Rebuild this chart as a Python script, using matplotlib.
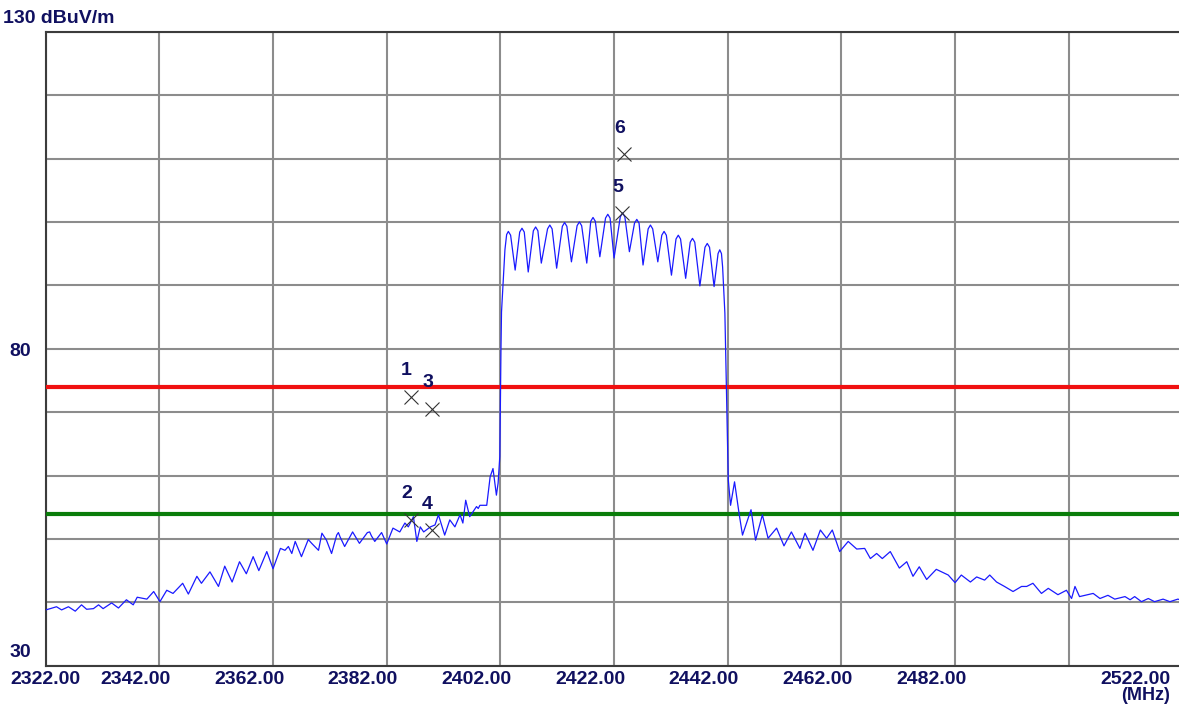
import matplotlib
matplotlib.use("Agg")
import matplotlib.pyplot as plt

left_f = [
    2322.0, 2322.8, 2323.9, 2324.8, 2326.0, 2327.2, 2328.3, 2329.2, 2330.4, 2331.3,
    2332.1, 2333.6, 2334.8, 2336.2, 2337.4, 2338.1, 2339.8, 2341.0, 2342.1, 2343.3,
    2344.4, 2346.1, 2347.1, 2348.6, 2349.4, 2350.9, 2352.4, 2353.5, 2354.8, 2356.1,
    2357.3, 2358.5, 2359.5, 2360.9, 2362.0, 2363.3, 2364.1, 2364.7, 2365.3, 2365.9,
    2367.0, 2368.2, 2368.8, 2370.0, 2370.6, 2371.4, 2372.3, 2373.2, 2373.5, 2373.8,
    2374.6, 2376.0, 2377.2, 2378.6, 2379.0, 2379.3, 2379.9, 2381.1, 2382.0, 2383.1,
    2384.3, 2385.2, 2385.8, 2386.7, 2387.3, 2387.9, 2388.5, 2389.7, 2390.5, 2391.1,
    2392.2, 2393.1, 2394.0, 2394.9, 2395.4, 2395.9, 2396.6, 2397.2, 2397.8, 2398.1,
    2398.4, 2399.6, 2400.2, 2400.7, 2401.3, 2401.6, 2401.9,
]
left_db = [
    38.8, 39.0, 39.3, 38.8, 39.3, 38.6, 39.6, 38.9, 39.0, 39.6,
    39.0, 39.9, 39.1, 40.4, 39.6, 40.8, 40.5, 41.7, 40.1, 41.9,
    41.4, 43.0, 41.3, 44.1, 43.0, 44.8, 42.5, 45.7, 43.2, 46.4,
    44.5, 47.2, 45.0, 48.0, 45.3, 48.5, 48.2, 48.8, 47.7, 49.6,
    47.2, 49.9, 49.3, 48.2, 50.9, 49.8, 47.7, 50.6, 51.0, 50.3,
    48.8, 51.1, 49.3, 51.0, 51.1, 50.5, 49.6, 51.0, 49.2, 51.7,
    51.1, 52.5, 51.9, 53.5, 49.6, 51.9, 51.1, 51.9, 52.2, 53.8,
    50.6, 53.0, 51.9, 53.8, 52.5, 56.1, 53.5, 54.3, 55.1, 54.8,
    55.3, 55.3, 59.8, 61.1, 56.9, 58.8, 63.0,
]

band_f = [
    2402.1, 2402.2, 2402.5, 2402.8, 2403.1, 2403.4, 2403.8, 2404.6, 2405.4, 2405.8,
    2406.2, 2406.9, 2407.8, 2408.2, 2408.6, 2409.2, 2410.3, 2410.7, 2411.1, 2411.9,
    2412.9, 2413.3, 2413.7, 2414.5, 2415.5, 2415.9, 2416.3, 2417.2, 2417.9, 2418.3,
    2418.7, 2419.5, 2420.5, 2420.9, 2421.3, 2422.0, 2423.1, 2423.5, 2423.9, 2424.7,
    2425.6, 2426.0, 2426.4, 2427.1, 2428.0, 2428.4, 2428.8, 2429.7, 2430.4, 2430.8,
    2431.2, 2432.1, 2432.9, 2433.3, 2433.7, 2434.6, 2435.4, 2435.8, 2436.2, 2437.1,
    2438.0, 2438.4, 2438.8, 2439.6, 2440.3, 2440.6, 2440.9, 2441.1, 2441.5,
]
band_db = [
    79.8, 85.8, 90.8, 95.6, 98.0, 98.5, 97.9, 92.4, 98.4, 99.0,
    98.4, 92.1, 98.6, 99.2, 98.6, 93.5, 98.9, 99.5, 98.9, 92.7,
    99.3, 99.9, 99.3, 93.7, 99.4, 100.0, 99.4, 93.5, 100.1, 100.7,
    100.1, 94.5, 100.6, 101.2, 100.6, 94.3, 100.8, 101.4, 100.8, 95.3,
    99.8, 100.4, 99.8, 93.2, 98.9, 99.5, 98.9, 93.7, 97.9, 98.5,
    97.9, 91.6, 97.3, 97.9, 97.3, 91.1, 96.8, 97.4, 96.8, 89.9,
    96.0, 96.6, 96.0, 89.8, 95.0, 95.6, 95.0, 92.9, 85.6,
]

right_f = [
    2442.1, 2442.5, 2443.2, 2444.0, 2444.6, 2446.1, 2446.9, 2448.1, 2449.1, 2450.6,
    2451.9, 2453.2, 2454.7, 2455.6, 2457.0, 2458.3, 2459.4, 2460.4, 2461.7, 2463.2,
    2464.7, 2466.1, 2467.1, 2468.2, 2469.2, 2470.6, 2472.2, 2473.5, 2474.6, 2475.7,
    2477.0, 2478.7, 2480.8, 2482.0, 2483.1, 2484.7, 2485.8, 2487.2, 2488.1, 2489.3,
    2490.7, 2492.2, 2493.7, 2494.6, 2495.7, 2497.2, 2498.4, 2500.1, 2501.6, 2502.5,
    2503.1, 2503.9, 2506.3, 2507.5, 2508.9, 2510.1, 2511.9, 2512.8, 2513.6, 2514.8,
    2516.0, 2517.1, 2518.6, 2519.8, 2521.2, 2522.0,
]
right_db = [
    59.3, 55.3, 59.0, 54.0, 50.6, 54.6, 49.8, 53.8, 50.1, 51.7,
    48.9, 51.1, 48.5, 50.9, 48.2, 51.4, 50.1, 51.4, 48.0, 49.6,
    48.4, 48.5, 46.9, 47.7, 46.9, 48.0, 45.4, 46.4, 44.1, 45.6,
    43.6, 45.2, 44.3, 43.1, 44.3, 43.2, 44.0, 43.5, 44.3, 43.2,
    42.5, 41.7, 42.5, 42.5, 43.0, 41.4, 42.2, 41.2, 41.9, 40.6,
    42.5, 40.9, 41.4, 40.6, 41.1, 40.5, 40.9, 40.4, 40.9, 40.1,
    40.6, 40.1, 40.5, 40.1, 40.5, 40.3,
]

# limit lines
peak_limit = 74
avg_limit = 54

# markers
marker_ids = ["1", "2", "3", "4", "5", "6"]
marker_freq = [2386.2, 2386.2, 2389.9, 2389.9, 2423.4, 2423.7]
marker_level = [72.4, 53.0, 70.5, 51.4, 101.4, 110.7]

x_ticks = [2322, 2342, 2362, 2382, 2402, 2422, 2442, 2462, 2482, 2502, 2522]
x_labels = ["2322.00", "2342.00", "2362.00", "2382.00", "2402.00", "2422.00",
            "2442.00", "2462.00", "2482.00", "", "2522.00"]
y_ticks = [30, 40, 50, 60, 70, 80, 90, 100, 110, 120, 130]

plt.rcParams['font.family'] = ['Liberation Sans', 'DejaVu Sans']
txt = '#101060'

W, H = 1179, 717
fig = plt.figure(figsize=(W / 100, H / 100), dpi=100)
ax = fig.add_axes([45.7 / W, 51.3 / H, (1182.4 - 45.7) / W, (665.7 - 31.7) / H])

ax.set_xlim(2322, 2522)
ax.set_ylim(30, 130)
ax.set_xticks(x_ticks)
ax.set_yticks(y_ticks)
ax.tick_params(length=0, labelbottom=False, labelleft=False)
ax.grid(True, color='#8c8c8c', lw=1.5)
for s in ax.spines.values():
    s.set_color('#3c3c3c')
    s.set_linewidth(1.5)

ax.axhline(peak_limit, color='#f01010', lw=3, zorder=3)
ax.axhline(avg_limit, color='#0a7d0a', lw=3, zorder=3)

freq_mhz = left_f + band_f + right_f
level_dbuv = left_db + band_db + right_db
ax.plot(freq_mhz, level_dbuv, color='#1a1aff', lw=0.9, zorder=4)

ax.plot(marker_freq, marker_level, ls='none', marker='x', ms=10, mew=0.8,
        color='#333333', zorder=5)
for m, f, l in zip(marker_ids, marker_freq, marker_level):
    ax.annotate(m, (f, l), xytext=(-4, 26), textcoords='offset pixels',
                ha='center', va='center', fontsize=14, fontweight='bold', color=txt)

# x labels, shifted left of the grid line like the analyser software does
for i, (v, lab) in enumerate(zip(x_ticks, x_labels)):
    if not lab:
        continue
    if i == 0:
        dx, ha = -35, 'left'
    elif i == len(x_ticks) - 1:
        dx, ha = -12, 'right'
    else:
        dx, ha = -24, 'center'
    ax.annotate(lab, (v, 0), xycoords=('data', 'axes fraction'), xytext=(dx, -18),
                textcoords='offset pixels', ha=ha, va='baseline',
                fontsize=14, fontweight='bold', color=txt)

ax.annotate("(MHz)", (2522, 0), xycoords=('data', 'axes fraction'), xytext=(-12, -34),
            textcoords='offset pixels', ha='right', va='baseline',
            fontsize=13, fontweight='bold', color=txt)

ax.annotate("80", (0, 80), xycoords=('axes fraction', 'data'), xytext=(-36, -7),
            textcoords='offset pixels', ha='left', va='baseline',
            fontsize=14, fontweight='bold', color=txt)
ax.annotate("30", (0, 30), xycoords=('axes fraction', 'data'), xytext=(-36, 9),
            textcoords='offset pixels', ha='left', va='baseline',
            fontsize=14, fontweight='bold', color=txt)
fig.text(3 / W, 1 - 23 / H, "130 dBuV/m", ha='left', va='baseline',
         fontsize=14, fontweight='bold', color=txt)

fig.savefig("out.png", dpi=100)
